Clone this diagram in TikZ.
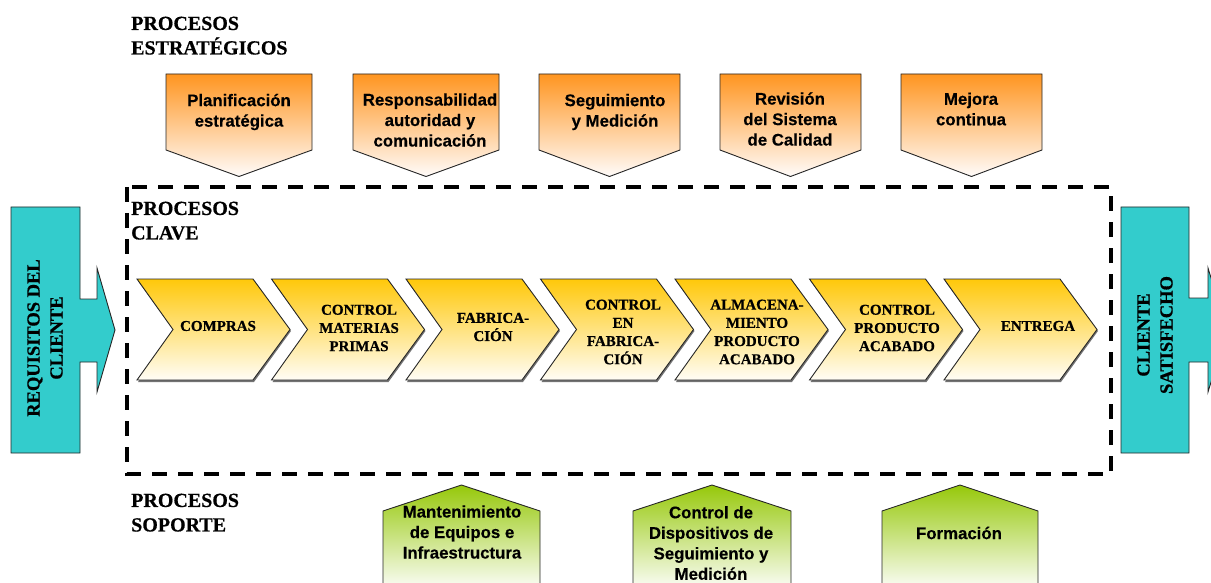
\documentclass[tikz,border=0pt]{standalone}
\usepackage{fontspec}
\setmainfont{Liberation Serif}[BoldFeatures={FakeBold=0.6}]
\setsansfont{Liberation Sans}[BoldFeatures={FakeBold=0.3}]
\definecolor{cyanbox}{HTML}{33CCCC}
\definecolor{orangetop}{HTML}{FF9520}
\definecolor{orangebot}{HTML}{FFFCFA}
\definecolor{goldtop}{HTML}{FFC80A}
\definecolor{goldbot}{HTML}{FFFDF6}
\definecolor{greentop}{HTML}{96C80A}
\definecolor{greenbot}{HTML}{FFFFFF}
\tikzset{
  outline/.style={draw=black!85, line width=0.9pt, line join=miter},
  orangeshape/.style={outline, top color=orangetop, bottom color=orangebot},
  goldshape/.style={outline, top color=goldtop, bottom color=goldbot},
  greenshape/.style={outline, top color=greentop, bottom color=greenbot},
  cyanshape/.style={outline, fill=cyanbox},
  sectlabel/.style={anchor=north west, inner sep=0pt, align=left, font=\bfseries\fontsize{20}{24.5}\selectfont},
  sanstext/.style={inner sep=0pt, align=center, font=\sffamily\bfseries\fontsize{16.8}{20.5}\selectfont},
  chevtext/.style={inner sep=0pt, align=center, font=\bfseries\fontsize{15}{18.2}\selectfont},
  cyantext/.style={inner sep=0pt, align=center, rotate=90, font=\bfseries\fontsize{18.5}{23}\selectfont},
  dashframe/.style={draw=black, line width=3.8pt, dash pattern=on 15pt off 11pt}
}
\begin{document}
\begin{tikzpicture}[x=1pt,y=-1pt]
\useasboundingbox (0,0) rectangle (1211,583);

% dashed frame of key processes
\draw[dashframe] (127,187) rectangle (1111,474);

% strategic process pentagons (pointing down)
\foreach \L/\W in {166/146, 353/146, 539/141, 720/141, 901/141}{
  \draw[orangeshape] (\L,74) -- ({\L+\W},74) -- ({\L+\W},150) -- ({\L+\W/2},176.5) -- (\L,150) -- cycle;
}

% key process chevrons
\foreach \L in {137,271.5,406,540.5,675,809.5,944}{
  \fill[black!55] ({\L+1},281) -- ({\L+117},281) -- ({\L+154},331) -- ({\L+117},382) -- ({\L+1},382) -- ({\L+37},331) -- cycle;
  \draw[goldshape] (\L,279) -- ({\L+116},279) -- ({\L+153},329.5) -- ({\L+116},380) -- (\L,380) -- ({\L+36},329.5) -- cycle;
}

% support process pentagons (pointing up)
\foreach \L/\W in {383/157, 633/158, 882/156}{
  \draw[greenshape] (\L,592) -- (\L,511) -- ({\L+\W/2},485) -- ({\L+\W},511) -- ({\L+\W},592);
}

% cyan arrows
\draw[cyanshape] (11,207) -- (80,207) -- (80,299) -- (97,299) -- (97,268) -- (115,330) -- (97,392) -- (97,362) -- (80,362) -- (80,453) -- (11,453) -- cycle;
\draw[cyanshape] (1121,207) -- (1189,207) -- (1189,298) -- (1208,298) -- (1208,268) -- (1227,330) -- (1208,392) -- (1208,362) -- (1189,362) -- (1189,453) -- (1121,453) -- cycle;

% section labels
\node[sectlabel] (lblest) at (131,16.5) {PROCESOS\\ESTRAT\'EGICOS};
\node[sectlabel] (lblclave) at (131,201.5) {PROCESOS\\CLAVE};
\node[sectlabel] (lblsop) at (131,493.5) {PROCESOS\\SOPORTE};

% strategic texts
\node[sanstext] (e1) at (239,112) {Planificaci\'on\\estrat\'egica};
\node[sanstext] (e2) at (430,120) {Responsabilidad\\autoridad y\\comunicaci\'on};
\node[sanstext] (e3) at (615,112) {Seguimiento\\y Medici\'on};
\node[sanstext] (e4) at (790,119) {Revisi\'on\\del Sistema\\de Calidad};
\node[sanstext] (e5) at (971,109) {Mejora\\continua};

% key texts
\node[chevtext] (c1) at (218,326) {COMPRAS};
\node[chevtext] (c2) at (359,328) {CONTROL\\MATERIAS\\PRIMAS};
\node[chevtext] (c3) at (493,327) {FABRICA-\\CI\'ON};
\node[chevtext] (c4) at (623,332) {CONTROL\\EN\\FABRICA-\\CI\'ON};
\node[chevtext] (c5) at (757,332) {ALMACENA-\\MIENTO\\PRODUCTO\\ACABADO};
\node[chevtext] (c6) at (897,328) {CONTROL\\PRODUCTO\\ACABADO};
\node[chevtext] (c7) at (1038,326) {ENTREGA};

% support texts
\node[sanstext] (s1) at (462,532) {Mantenimiento\\de Equipos e\\Infraestructura};
\node[sanstext] (s2) at (711,543) {Control de\\Dispositivos de\\Seguimiento y\\Medici\'on};
\node[sanstext] (s3) at (959,533) {Formaci\'on};

% cyan texts
\node[cyantext] (req) at (45,338) {REQUISITOS DEL\\CLIENTE};
\node[cyantext] (sat) at (1155,335) {CLIENTE\\SATISFECHO};
\end{tikzpicture}
\end{document}
